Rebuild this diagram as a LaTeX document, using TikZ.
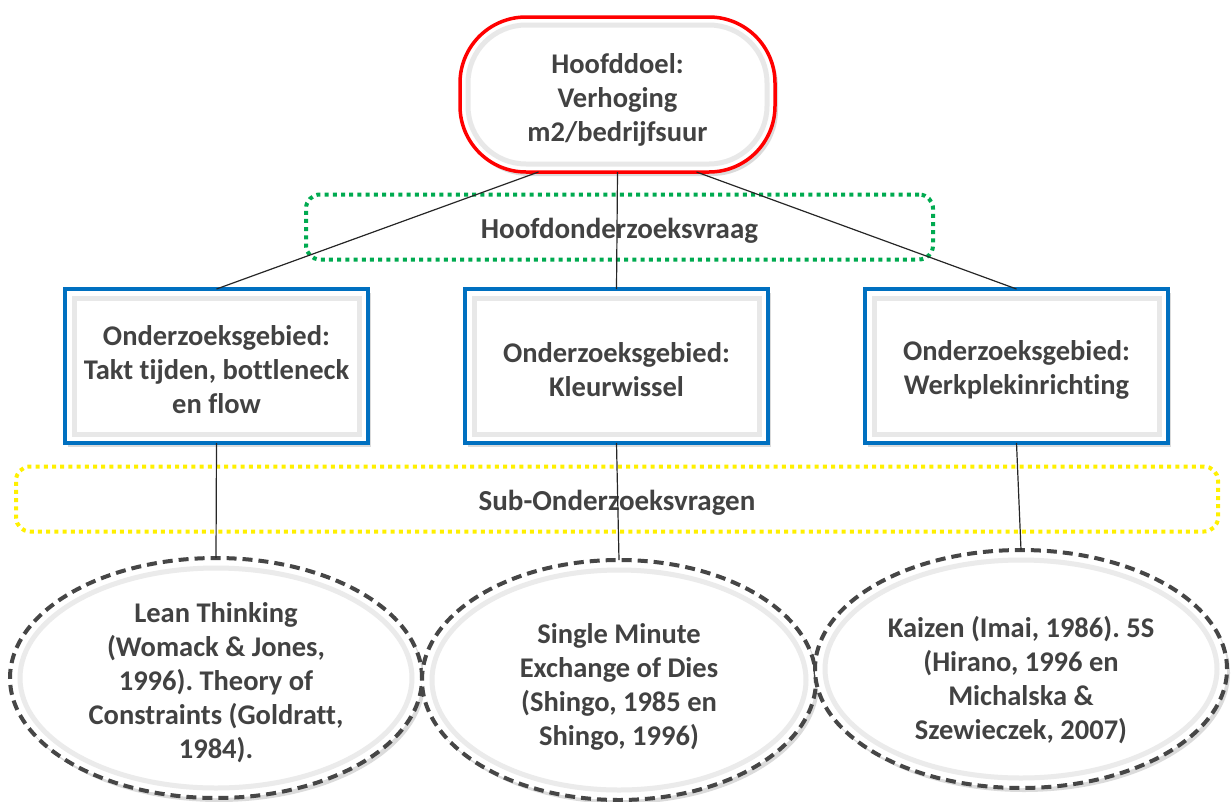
\documentclass[tikz,border=0pt]{standalone}
\usepackage{fontspec}
\setmainfont{Carlito}[Ligatures=NoCommon]
\usetikzlibrary{shapes.geometric,shadows,calc}
\definecolor{goalred}{RGB}{255,0,0}
\definecolor{qgreen}{RGB}{0,170,80}
\definecolor{subyellow}{RGB}{255,240,0}
\definecolor{areablue}{RGB}{0,112,192}
\definecolor{dashgray}{RGB}{70,70,70}
\definecolor{txtgray}{RGB}{66,66,66}
\frenchspacing
% centred block of lines, lowered by the optional amount
\newcommand\nodetext[2][5.5pt]{\raisebox{\dimexpr-#1-0.25em\relax}[0pt][0pt]{%
  \begin{tabular}{@{}c@{}}#2\end{tabular}}}

\begin{document}
\begin{tikzpicture}[x=1pt,y=-1pt,
  every node/.style={inner sep=0pt, outer sep=0pt,
    font=\fontsize{28.5}{34}\selectfont\bfseries, text=txtgray},
  softshadow/.style={drop shadow={shadow xshift=3pt, shadow yshift=-4pt,
    opacity=0.14, fill=black}},
  goalbox/.style={draw=goalred, line width=3.5pt, fill=white,
    rounded corners=66pt, minimum width=315pt, minimum height=155pt, softshadow,
    path picture={\draw[black!9, line width=5pt, rounded corners=58pt]
      ([shift={(8pt,-8pt)}]path picture bounding box.north west) rectangle
      ([shift={(-8pt,8pt)}]path picture bounding box.south east);}},
  bandbox/.style={line width=4pt, rounded corners=14pt, dash pattern=on 4pt off 4.2pt,
    minimum height=65pt, font=\fontsize{29}{34}\selectfont\bfseries},
  areabox/.style={draw=areablue, line width=4pt, fill=white,
    minimum width=303pt, minimum height=154pt, softshadow,
    path picture={\draw[black!9, line width=5pt]
      ([shift={(9pt,-9pt)}]path picture bounding box.north west) rectangle
      ([shift={(-9pt,9pt)}]path picture bounding box.south east);}},
  litbox/.style={ellipse, draw=dashgray, line width=4pt, fill=white,
    dash pattern=on 10pt off 6pt, softshadow,
    path picture={\draw[solid, black!8, line width=5pt]
      let \p1=($(path picture bounding box.north east)-(path picture bounding box.center)$)
      in (path picture bounding box.center) ellipse [x radius=\x1-10pt, y radius=\y1-10pt];}},
  link/.style={draw=black!85, line width=1.2pt}
]
\useasboundingbox (0,0) rectangle (1231,801);

% main goal
\node[goalbox] (goal) at (617.5,94.5) {\nodetext[5.5pt]{Hoofddoel:\\Verhoging\\m2/bedrijfsuur}};

% research areas
\node[areabox] (area1) at (216.5,366) {\nodetext[5.5pt]{Onderzoeksgebied:\\Takt tijden, bottleneck\\en flow}};
\node[areabox] (area2) at (616.5,366) {\nodetext[6pt]{Onderzoeksgebied:\\Kleurwissel}};
\node[areabox] (area3) at (1016.5,366) {\nodetext[4pt]{Onderzoeksgebied:\\Werkplekinrichting}};

% literature
\node[litbox, minimum width=412pt, minimum height=240pt] (lit1) at (216,678)
  {\nodetext[5pt]{Lean Thinking\\(Womack \& Jones,\\1996). Theory of\\Constraints (Goldratt,\\1984).}};
\node[litbox, minimum width=394pt, minimum height=240pt] (lit2) at (619,680)
  {\nodetext[6.5pt]{Single Minute\\Exchange of Dies\\(Shingo, 1985 en\\Shingo, 1996)}};
\node[litbox, minimum width=412pt, minimum height=238pt] (lit3) at (1021,669)
  {\nodetext[11.5pt]{Kaizen (Imai, 1986). 5S\\(Hirano, 1996 en\\Michalska \&\\Szewieczek, 2007)}};

% question bands (open, connectors run through them)
\node[bandbox, draw=qgreen, minimum width=627pt] (mainq) at (619.5,227) {\nodetext[3.5pt]{Hoofdonderzoeksvraag}};
\node[bandbox, draw=subyellow, minimum width=1202pt] (subq) at (617,499) {\nodetext[3.5pt]{Sub-Onderzoeksvragen}};

% connectors
\draw[link] ([xshift=-79pt]goal.south) -- (area1.north);
\draw[link] (goal.south) -- (area2.north);
\draw[link] ([xshift=79pt]goal.south) -- (area3.north);
\draw[link] (area1.south) -- (lit1.north);
\draw[link] (area2.south) -- (lit2.north);
\draw[link] (area3.south) -- (lit3.north);
\end{tikzpicture}
\end{document}
